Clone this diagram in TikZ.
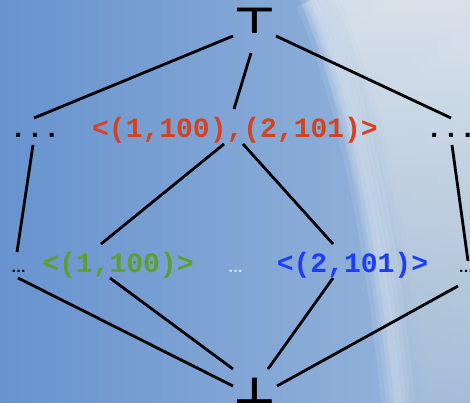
\documentclass[tikz,border=0pt]{standalone}
\usepackage{fontspec}
\setmonofont{Liberation Mono}
\setsansfont{Liberation Sans}
\newfontfamily\symfont{DejaVu Sans}
\usetikzlibrary{calc}

\definecolor{bgL}{HTML}{6793CF}
\definecolor{bgM}{HTML}{9AB7DB}
\definecolor{lite}{HTML}{EAEEF0}
\definecolor{liteB}{HTML}{A9C1DA}
\definecolor{redtxt}{HTML}{D4421F}
\definecolor{greentxt}{HTML}{5CA12B}
\definecolor{bluetxt}{HTML}{1E3EF5}
\definecolor{faintdots}{HTML}{E2EAF2}

\begin{document}
\begin{tikzpicture}[x=1pt, y=-1pt,
  edge/.style={line width=2.8pt, black},
  mono/.style={font=\fontsize{28}{30}\selectfont\ttfamily\bfseries, inner sep=0pt, anchor=base},
  smalldots/.style={font=\fontsize{15}{17}\selectfont\sffamily\bfseries, inner sep=0pt, anchor=base},
  bound/.style={font=\fontsize{36}{38}\selectfont\symfont\bfseries, inner sep=0pt, anchor=base, xscale=1.3}]

\useasboundingbox (0,0) rectangle (470,403);

% sky background
\fill[left color=bgL, right color=bgM] (0,0) rectangle (470,403);
\foreach \s in {0,5,...,40}
  \shade[top color=lite, bottom color=liteB, opacity=0.17]
    (300+\s,0) .. controls (340+\s,90) and (375+\s,250) .. (390+\s,403)
    -- (470,403) -- (470,0) -- cycle;
\foreach \w in {34,24,16,8}
  \draw[white, opacity=0.09, line width=\w pt]
    (312,0) .. controls (352,90) and (384,250) .. (398,403);

% lattice elements
\node[bound] (top) at (255,34) {⊤};
\node[mono] (dl) at (35,138) {...};
\node[mono, text=redtxt] (red) at (235,138) {<(1,100),(2,101)>};
\node[mono] (dr) at (451,138) {...};
\node[smalldots] (l1) at (18.5,272) {…};
\node[mono, text=greentxt] (green) at (118,272) {<(1,100)>};
\node[smalldots, text=faintdots] (mid) at (235.5,272) {…};
\node[mono, text=bluetxt] (blue) at (352.5,272) {<(2,101)>};
\node[smalldots] (r1) at (466,272) {…};
\node[bound] (bot) at (255,403) {⊥};

% order relations
\draw[edge] ($(top.base)+(-22,2)$) -- ($(dl.base)+(-1,-20)$);
\draw[edge] ($(top.base)+(-4,19)$) -- ($(red.base)+(-1,-29)$);
\draw[edge] ($(top.base)+(21,2)$) -- ($(dr.base)+(0,-20)$);
\draw[edge] ($(red.base)+(-11,6)$) -- ($(green.base)+(-17,-28)$);
\draw[edge] ($(red.base)+(8,6)$) -- ($(blue.base)+(-19.5,-28)$);
\draw[edge] ($(dl.base)+(-2,7)$) -- ($(l1.base)+(-1.5,-20)$);
\draw[edge] ($(dr.base)+(1,7)$) -- ($(r1.base)+(2,-11)$);
\draw[edge] ($(l1.base)+(-0.5,6)$) -- ($(bot.base)+(-22,-17)$);
\draw[edge] ($(green.base)+(-8,6)$) -- ($(bot.base)+(-22,-34)$);
\draw[edge] ($(blue.base)+(-19.5,6)$) -- ($(bot.base)+(13,-34)$);
\draw[edge] ($(r1.base)+(-8,14)$) -- ($(bot.base)+(22,-17)$);
\end{tikzpicture}
\end{document}
